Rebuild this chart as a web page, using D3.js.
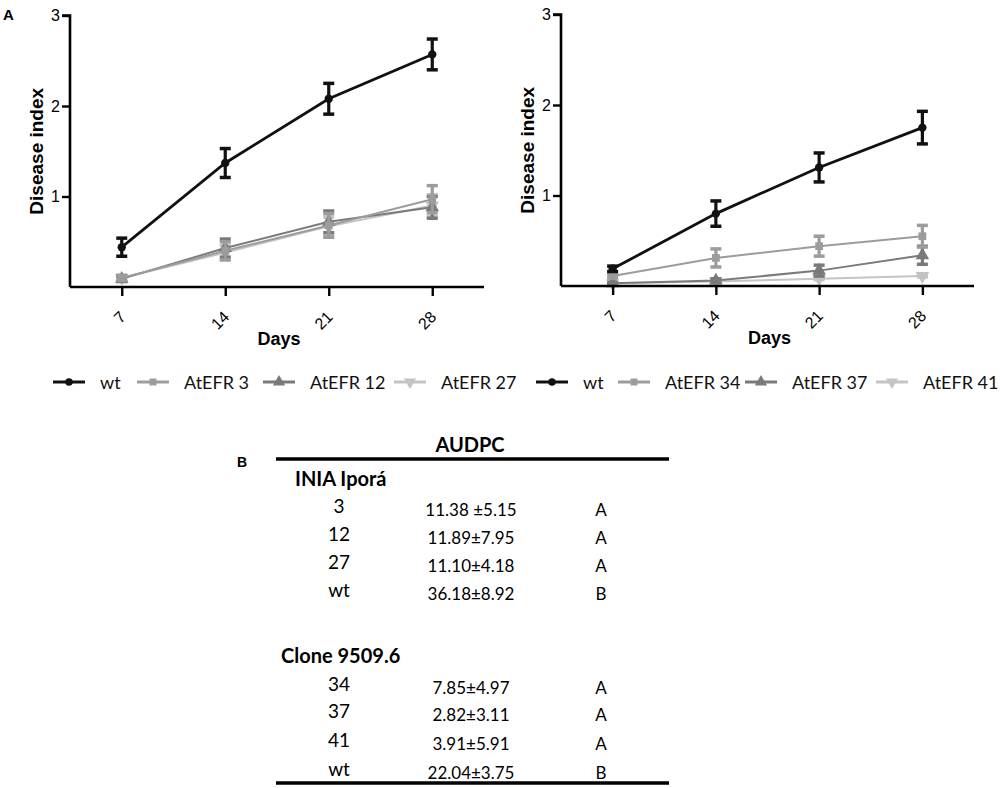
<!DOCTYPE html>
<html>
<head>
<meta charset="utf-8">
<script src="https://cdn.jsdelivr.net/npm/d3@7"></script>
<style>
  body { margin: 0; background: #fff; }
  svg { display: block; }
</style>
</head>
<body>
<svg id="fig" width="1000" height="788"></svg>
<script>
// ---- data ----
const days = [7, 14, 21, 28];
const yTicks = [1, 2, 3];

const leftNames = ['wt', 'AtEFR 3', 'AtEFR 12', 'AtEFR 27'];
const leftMeans = [
  [0.44, 1.37, 2.08, 2.57],
  [0.10, 0.40, 0.68, 0.97],
  [0.09, 0.43, 0.72, 0.88],
  [0.10, 0.38, 0.67, 0.90]
];
const leftErrs = [
  [0.10, 0.16, 0.17, 0.17],
  [0.03, 0.10, 0.13, 0.15],
  [0.03, 0.10, 0.12, 0.12],
  [0.02, 0.08, 0.10, 0.12]
];

const rightNames = ['wt', 'AtEFR 34', 'AtEFR 37', 'AtEFR 41'];
const rightMeans = [
  [0.19, 0.80, 1.31, 1.75],
  [0.11, 0.31, 0.44, 0.55],
  [0.03, 0.06, 0.17, 0.34],
  [0.03, 0.05, 0.08, 0.11]
];
const rightErrs = [
  [0.03, 0.14, 0.16, 0.18],
  [0.02, 0.10, 0.11, 0.12],
  [0.01, 0.02, 0.06, 0.10],
  [0.01, 0.01, 0.01, 0.01]
];

// AUDPC table
const inia = ['3', '12', '27', 'wt'];
const iniaVals = ['11.38 \u00b15.15', '11.89\u00b17.95', '11.10\u00b14.18', '36.18\u00b18.92'];
const iniaGroups = ['A', 'A', 'A', 'B'];
const clone = ['34', '37', '41', 'wt'];
const cloneVals = ['7.85\u00b14.97', '2.82\u00b13.11', '3.91\u00b15.91', '22.04\u00b13.75'];
const cloneGroups = ['A', 'A', 'A', 'B'];

// ---- styles per series ----
const colors = ['#111111', '#9c9c9c', '#7a7a7a', '#c4c4c4'];
const symbols = [d3.symbolCircle, d3.symbolSquare, d3.symbolTriangle, d3.symbolTriangle];
const symSizes = [55, 60, 80, 80];
const symRot = [0, 0, 0, 180];
const lineW = [2.8, 2, 2, 2];

const svg = d3.select('#fig');
const axisFont = "'Liberation Sans', Arial, sans-serif";
const calFont = "Lato, 'Open Sans', sans-serif";

function drawPanel(x0, x1, yBase, yTop, means, errs) {
  const g = svg.append('g');
  const x = d3.scaleLinear().domain([3.5, 31.5]).range([x0, x1]);
  const y = d3.scaleLinear().domain([0, 3]).range([yBase, yTop]);

  // series, wt last so it sits on top
  for (let s = means.length - 1; s >= 0; s--) {
    const pts = days.map((d, i) => ({ d: d, v: means[s][i], e: errs[s][i] }));
    const sg = g.append('g');

    sg.append('path')
      .datum(pts)
      .attr('fill', 'none')
      .attr('stroke', colors[s])
      .attr('stroke-width', lineW[s])
      .attr('d', d3.line().x(p => x(p.d)).y(p => y(p.v)));

    const eb = sg.selectAll('.eb').data(pts).join('g');
    eb.append('line')
      .attr('x1', p => x(p.d)).attr('x2', p => x(p.d))
      .attr('y1', p => y(p.v - p.e)).attr('y2', p => y(p.v + p.e))
      .attr('stroke', colors[s]).attr('stroke-width', 3.2);
    [-1, 1].forEach(sign => {
      eb.append('line')
        .attr('x1', p => x(p.d) - 5.5).attr('x2', p => x(p.d) + 5.5)
        .attr('y1', p => y(p.v + sign * p.e)).attr('y2', p => y(p.v + sign * p.e))
        .attr('stroke', colors[s]).attr('stroke-width', 3.5);
    });

    sg.selectAll('.pt').data(pts).join('path')
      .attr('d', d3.symbol().type(symbols[s]).size(symSizes[s]))
      .attr('transform', p => `translate(${x(p.d)},${y(p.v)}) rotate(${symRot[s]})`)
      .attr('fill', colors[s]);
  }

  // axes
  const yAxis = g.append('g')
    .attr('transform', `translate(${x0},0)`)
    .call(d3.axisLeft(y).tickValues(yTicks).tickFormat(d3.format('d')).tickSize(8).tickPadding(2));
  const xAxis = g.append('g')
    .attr('transform', `translate(0,${yBase})`)
    .call(d3.axisBottom(x).tickValues(days).tickSize(9).tickFormat(''));
  [yAxis, xAxis].forEach(a => {
    a.select('.domain').attr('stroke', '#000').attr('stroke-width', 2.6);
    a.selectAll('.tick line').attr('stroke', '#000').attr('stroke-width', 2.4);
  });
  yAxis.select('.domain').attr('d', `M-8,${y(3)}H0V${yBase}`);
  xAxis.select('.domain').attr('d', `M${x0},0H${x1}`);
  yAxis.selectAll('.tick text')
    .attr('font-family', axisFont).attr('font-size', 16).attr('fill', '#000');

  g.selectAll('.xl').data(days).join('text')
    .attr('transform', d => `translate(${x(d) + 5},${yBase + 31}) rotate(-45)`)
    .attr('text-anchor', 'end')
    .attr('font-family', axisFont).attr('font-size', 16)
    .text(d => d);

  g.append('text')
    .attr('x', (x0 + x1) / 2 + 2).attr('y', yBase + 58)
    .attr('text-anchor', 'middle')
    .attr('font-family', axisFont).attr('font-size', 18).attr('font-weight', 'bold')
    .text('Days');

  g.append('text')
    .attr('transform', `translate(${x0 - 27},${(yBase + y(3)) / 2}) rotate(-90)`)
    .attr('text-anchor', 'middle')
    .attr('font-family', axisFont).attr('font-size', 19).attr('font-weight', 'bold')
    .text('Disease index');
}

drawPanel(70, 484, 287, 15.5, leftMeans, leftErrs);
drawPanel(561, 974, 286, 14.5, rightMeans, rightErrs);

svg.append('text').attr('x', 3).attr('y', 20)
  .attr('font-family', axisFont).attr('font-size', 15).attr('font-weight', 'bold')
  .text('A');

// ---- legend ----
function drawLegend(names, starts) {
  const lg = svg.append('g');
  names.forEach((n, s) => {
    const gx = starts[s];
    const cy = 382;
    lg.append('line')
      .attr('x1', gx).attr('x2', gx + 32).attr('y1', cy).attr('y2', cy)
      .attr('stroke', colors[s]).attr('stroke-width', 3);
    lg.append('path')
      .attr('d', d3.symbol().type(symbols[s]).size(symSizes[s] * 0.8))
      .attr('transform', `translate(${gx + 16},${cy}) rotate(${symRot[s]})`)
      .attr('fill', colors[s]);
    lg.append('text')
      .attr('x', gx + 47).attr('y', cy + 7)
      .attr('font-family', calFont).attr('font-size', 18).attr('fill', '#111')
      .text(n);
  });
}
drawLegend(leftNames, [53, 137, 263, 394]);
drawLegend(rightNames, [536, 618, 745, 876]);

// ---- AUDPC table ----
const tg = svg.append('g');
tg.append('text').attr('x', 237).attr('y', 467)
  .attr('font-family', axisFont).attr('font-size', 14).attr('font-weight', 'bold')
  .text('B');
tg.append('text').attr('x', 470).attr('y', 452)
  .attr('text-anchor', 'middle')
  .attr('font-family', calFont).attr('font-size', 20).attr('font-weight', 'bold')
  .text('AUDPC');
[459, 783].forEach(yy => {
  tg.append('line').attr('x1', 276).attr('x2', 669).attr('y1', yy).attr('y2', yy)
    .attr('stroke', '#000').attr('stroke-width', 3.5);
});

function drawBlock(title, titleX, titleY, labels, vals, groups, rowY) {
  tg.append('text').attr('x', titleX).attr('y', titleY)
    .attr('font-family', calFont).attr('font-size', 20).attr('font-weight', 'bold')
    .text(title);
  labels.forEach((l, i) => {
    tg.append('text').attr('x', 339).attr('y', rowY[i])
      .attr('text-anchor', 'middle')
      .attr('font-family', calFont).attr('font-size', 19)
      .text(l);
    tg.append('text').attr('x', 471).attr('y', rowY[i] + 2.5)
      .attr('text-anchor', 'middle')
      .attr('font-family', calFont).attr('font-size', 17)
      .text(vals[i]);
    tg.append('text').attr('x', 601).attr('y', rowY[i] + 2.5)
      .attr('text-anchor', 'middle')
      .attr('font-family', calFont).attr('font-size', 17)
      .text(groups[i]);
  });
}
drawBlock('INIA Ipor\u00e1', 295, 486, inia, iniaVals, iniaGroups, [513, 541, 569, 597]);
drawBlock('Clone 9509.6', 281, 663, clone, cloneVals, cloneGroups, [691, 718, 747, 776]);
</script>
</body>
</html>
